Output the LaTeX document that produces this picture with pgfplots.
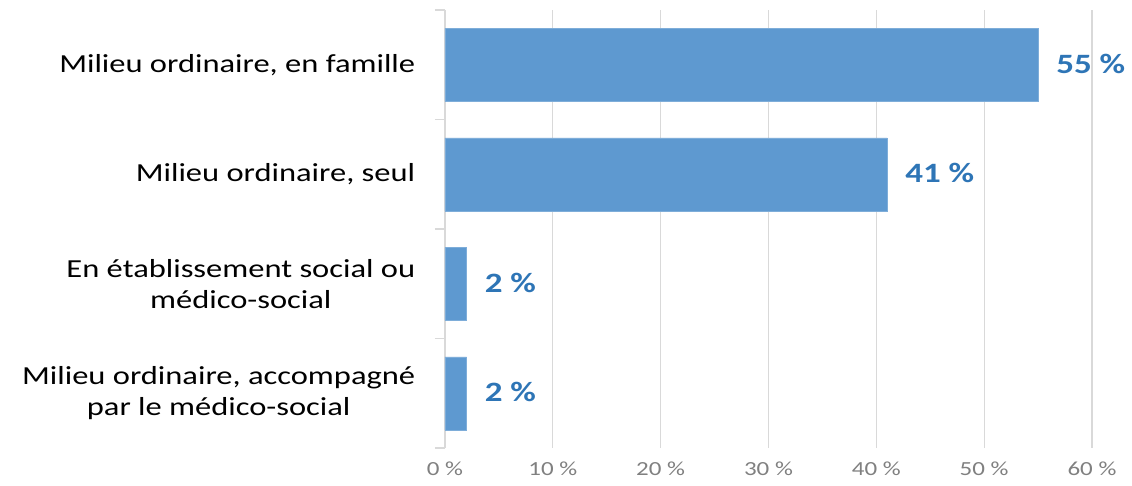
\documentclass[border=0pt]{standalone}
\usepackage{pgfplots}
\pgfplotsset{compat=1.18}
\usepackage{fontspec}
\setmainfont{Carlito}[FakeStretch=1.25]
\definecolor{barblue}{RGB}{94,153,208}
\definecolor{lblblue}{RGB}{46,117,182}
\definecolor{gridgray}{RGB}{217,217,217}
\definecolor{tickgray}{RGB}{128,128,128}
\begin{document}
\begin{tikzpicture}
\useasboundingbox (-445pt,-37pt) rectangle (687pt,448pt);
\begin{axis}[
  at={(0pt,0pt)}, anchor=south west,
  scale only axis, width=647pt, height=438pt,
  xbar, bar width=73pt,
  xmin=0, xmax=60, ymin=-0.5, ymax=3.5, y dir=reverse,
  /pgf/number format/assume math mode=true,
  axis x line*=bottom, axis y line*=left,
  x axis line style={draw=none},
  y axis line style={draw=gridgray, line width=1.2pt, -},
  xtick={0,10,...,60},
  xticklabel={\pgfmathprintnumber{\tick}~\%},
  xtick style={draw=none},
  xticklabel style={text=tickgray, font=\fontsize{20}{22}\selectfont, yshift=-10pt},
  xmajorgrids, grid style={draw=gridgray, line width=1.2pt},
  ytick={0,1,2,3},
  yticklabels={{Milieu ordinaire, en famille}, {Milieu ordinaire, seul}, {En établissement social ou\\médico-social}, {Milieu ordinaire, accompagné\\par le médico-social}},
  yticklabel style={align=center, font=\fontsize{26}{31}\selectfont, text=black, xshift=-22pt},
  ytick style={draw=none},
  extra y ticks={-0.5,0.5,1.5,2.5,3.5},
  extra y tick labels={},
  extra y tick style={major tick length=10pt, tick align=outside, ytick style={draw=gridgray, line width=1.2pt}},
  nodes near coords={\pgfmathprintnumber{\pgfplotspointmeta}~\%},
  nodes near coords style={font=\bfseries\fontsize{28}{30}\selectfont, text=lblblue, anchor=west, inner sep=0pt, xshift=18pt, yshift=1pt},
]
\addplot[fill=barblue, draw=barblue!80!white] coordinates {(55,0) (41,1) (2,2) (2,3)};
\end{axis}
\end{tikzpicture}
\end{document}
